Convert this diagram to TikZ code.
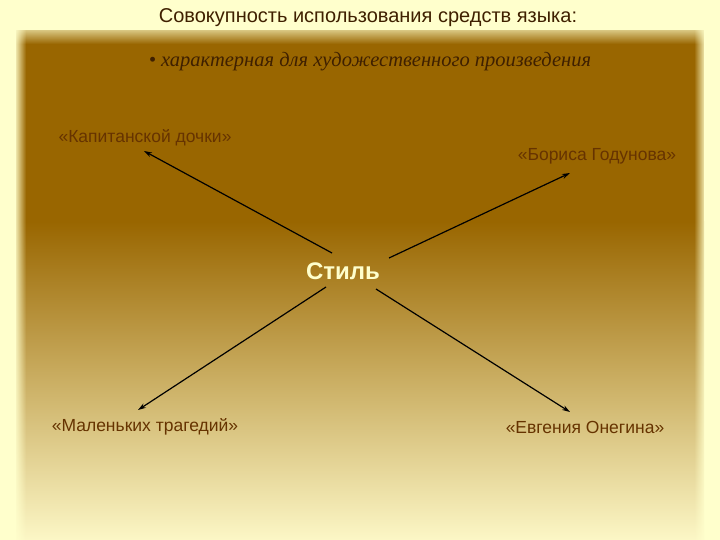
\documentclass[tikz,border=0pt]{standalone}
\usepackage{fontspec}
\setmainfont{Liberation Sans}
\newfontfamily\serifit{Liberation Serif}
\usetikzlibrary{arrows.meta,fadings}
\definecolor{bgpale}{HTML}{FFFFCC}
\definecolor{brownbg}{HTML}{996600}
\definecolor{palebot}{HTML}{FCF7C6}
\definecolor{darktxt}{HTML}{3F2000}
\definecolor{labtxt}{HTML}{663300}
\definecolor{stiltxt}{HTML}{FFFFCC}
\tikzset{
  lab/.style={font=\fontsize{17.5}{20}\selectfont, text=labtxt, inner sep=1pt},
  arr/.style={draw=black, line width=1.2pt, -{Stealth[length=8pt,width=5pt]}},
}
\begin{document}
\begin{tikzpicture}[x=1pt,y=-1pt]
\useasboundingbox (0,0) rectangle (720,540);
% background
\fill[bgpale] (0,0) rectangle (720,540);
\fill[brownbg] (16,30) rectangle (704,222);
\shade[top color=brownbg, bottom color=palebot] (16,221.5) rectangle (704,540);
% soft edges
\fill[bgpale, path fading=east] (14,0) rectangle (26,540);
\fill[bgpale, path fading=west] (694,0) rectangle (706,540);
\fill[bgpale, path fading=south] (0,22) rectangle (720,44);
% texts
\node[font=\fontsize{20}{24}\selectfont, text=darktxt] (title) at (368,18) {Совокупность использования средств языка:};
\node[font=\serifit\itshape\fontsize{20.5}{24}\selectfont, text=darktxt] (sub) at (370,62) {\textbullet\ характерная для художественного произведения};
\node[lab] (kap) at (145,138) {«Капитанской дочки»};
\node[lab] (bor) at (597,156) {«Бориса Годунова»};
\node[lab] (mal) at (145,427) {«Маленьких трагедий»};
\node[lab] (evg) at (585,427) {«Евгения Онегина»};
\node[font=\bfseries\fontsize{24}{28}\selectfont, text=stiltxt] (stil) at (343,271) {Стиль};
% connector end points
\coordinate (s1) at (332,253);
\coordinate (s2) at (389,258);
\coordinate (s3) at (326,287);
\coordinate (s4) at (376,289);
\coordinate (t1) at (144,151);
\coordinate (t2) at (570,173);
\coordinate (t3) at (138,410);
\coordinate (t4) at (570,412);
\draw[arr] (s1) -- (t1);
\draw[arr] (s2) -- (t2);
\draw[arr] (s3) -- (t3);
\draw[arr] (s4) -- (t4);
\end{tikzpicture}
\end{document}
